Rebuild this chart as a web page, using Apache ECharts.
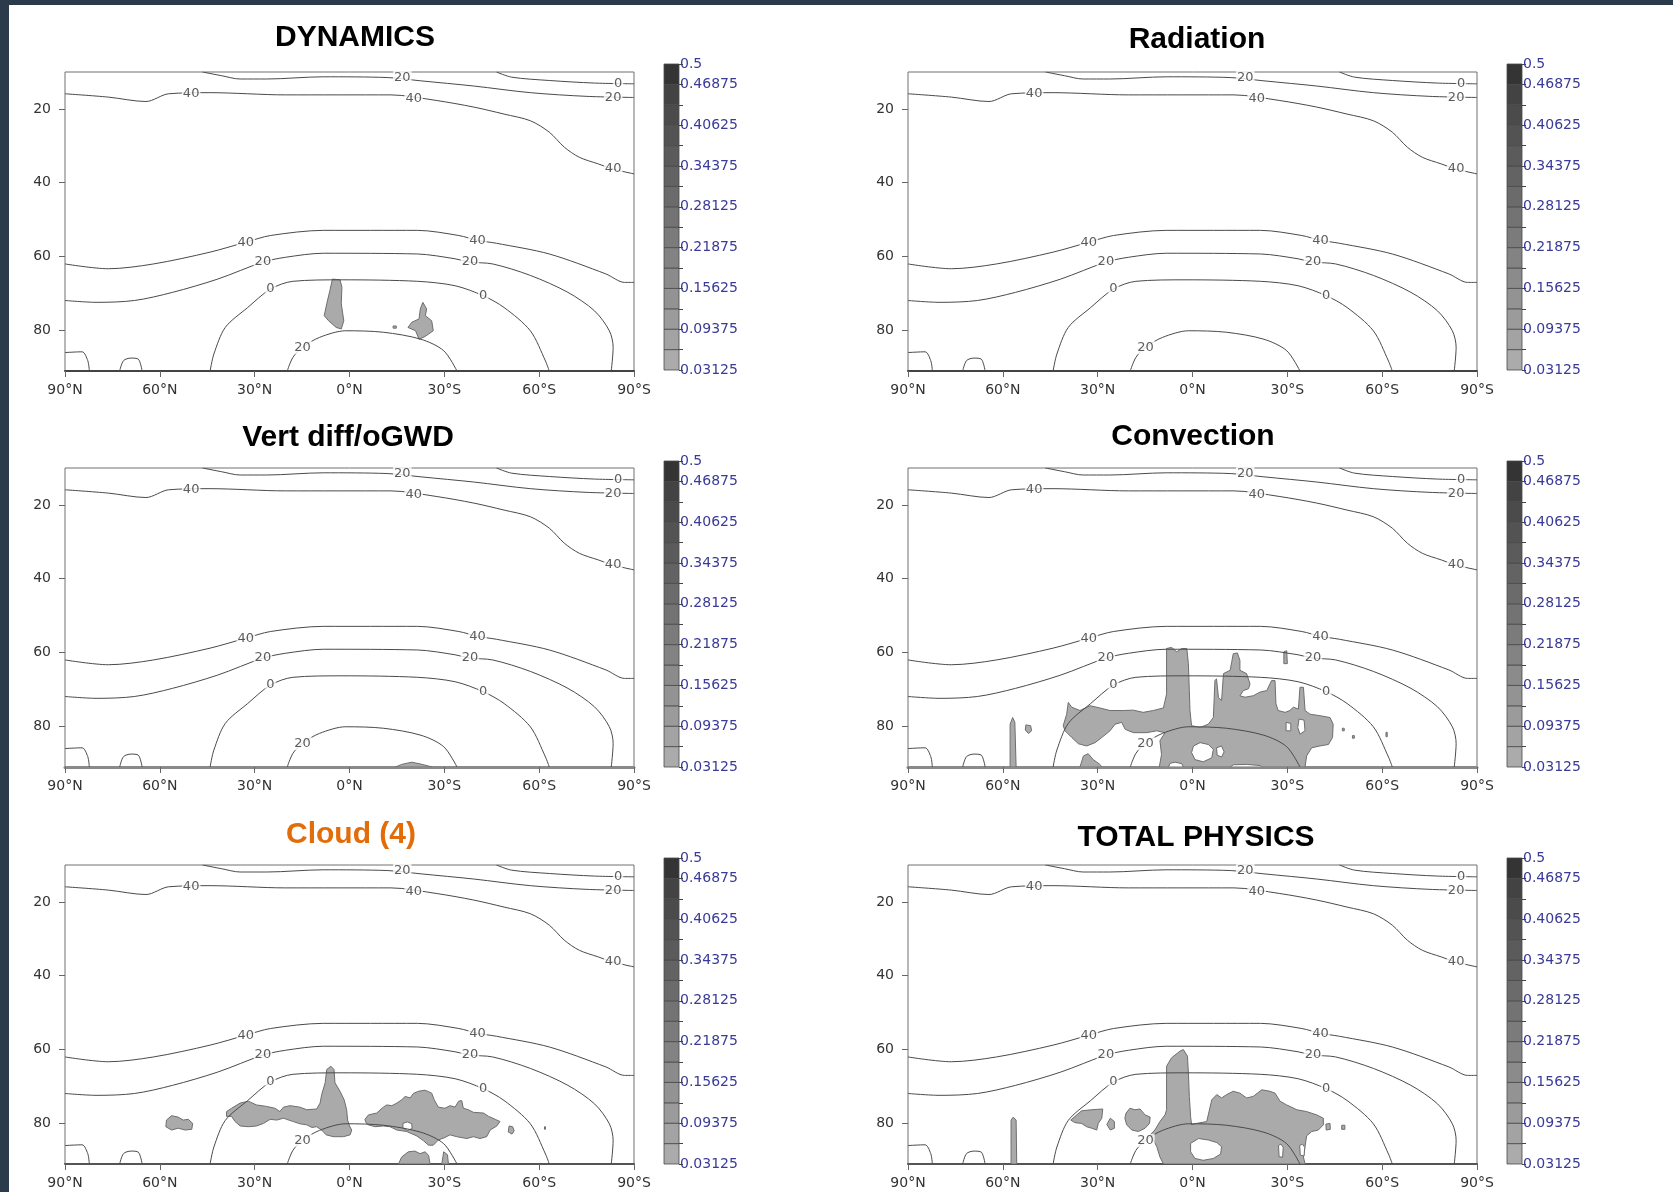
<!DOCTYPE html>
<html><head><meta charset="utf-8">
<script src="https://cdn.jsdelivr.net/npm/echarts@6/dist/echarts.min.js"></script>
<style>html,body{margin:0;padding:0;background:#fff}#c{width:1673px;height:1192px}</style>
</head><body><div id="c"></div>
<script>
// ---------------- DATA ----------------
const panelTitles = ['DYNAMICS', 'Radiation', 'Vert diff/oGWD', 'Convection', 'Cloud (4)', 'TOTAL PHYSICS'];
const latTicks = [-90, -60, -30, 0, 30, 60, 90];
const levelTicks = [20, 40, 60, 80];
const colorbarLevels = [0.03125, 0.0625, 0.09375, 0.125, 0.15625, 0.1875, 0.21875, 0.25, 0.28125, 0.3125, 0.34375, 0.375, 0.40625, 0.4375, 0.46875, 0.5];
const colorbarLabels = [0.03125, 0.09375, 0.15625, 0.21875, 0.28125, 0.34375, 0.40625, 0.46875, 0.5];

// background contour lines [latitude (N>0), model level]
const contourTop20 = [[46.5,10],[40.5,11],[34.6,11.9],[26.2,11.9],[8.3,11.3],[-11.9,11.5],[-22.6,12.4],[-39.3,13.8],[-57.2,15.6],[-75.1,16.6],[-90,16.9]];
const contourTop0 = [[-46.5,10],[-51.3,11.4],[-63.2,12.3],[-77.5,13],[-90,13.2]];
const contourUpper40 = [[90,15.9],[76.3,16.8],[64.4,18],[57.2,15.9],[44.1,15.6],[20.3,16.2],[-13.1,16.2],[-27.4,17.7],[-39.3,19.5],[-48.9,21.4],[-57.2,23.2],[-63.2,26.3],[-68,30.4],[-72.7,33.1],[-78.7,34.9],[-83.4,36.3],[-90,37.6]];
const contourLower40 = [[90,62],[76.3,63.3],[62,62],[44.1,58.8],[32.8,56.1],[25,54.3],[8.3,52.9],[-21.5,52.9],[-34.6,54.3],[-40.5,55.6],[-46.5,56.4],[-63.2,59.3],[-81.1,64.7],[-87,67],[-90,67]];
const contourLower20 = [[90,71.9],[79.9,72.4],[68,71.9],[56,69.7],[41.7,66.1],[27.4,61.5],[20.3,60.2],[8.3,59.1],[-21.5,59.3],[-33.4,60.6],[-38.1,61.5],[-45.3,62],[-57.2,65.1],[-69.1,69.7],[-77.5,74.7],[-82.2,80.1],[-83.4,84.6],[-82.8,91]];
const contourZero = [[44.1,91],[42.9,86.4],[39.3,79.2],[32.2,73.8],[25,68.8],[17.9,66.7],[2.4,66.3],[-21.5,66.7],[-33.4,67.9],[-42.3,70.6],[-48.9,73.8],[-57.2,80.1],[-62,88.3],[-63.2,91]];
const contourInner20 = [[19.7,91],[17.9,87.3],[14.9,84.6],[9.5,81.9],[1.2,80.1],[-10.7,80.5],[-22.6,82.4],[-29.8,85.5],[-34,91]];
const contourBump1 = [[90,86],[84.6,85.8],[82.8,88.2],[82.3,91]];
const contourBump2 = [[72.7,91],[71.5,88.2],[69.1,87.5],[66.8,87.8],[65.6,91]];
const contourLabels = [[-16.7,11.5,'20'],[-85,13.2,'0'],[-83.4,16.9,'20'],[50.1,15.9,'40'],[-20.3,17.3,'40'],[-83.4,36.3,'40'],
  [32.8,56.1,'40'],[-40.5,55.6,'40'],[27.4,61.5,'20'],[-38.1,61.5,'20'],[25,68.8,'0'],[-42.3,70.6,'0'],[14.9,84.6,'20']];

// shaded regions (>0.03125) per panel, polygons of [latitude, level]
const dynamicsBlobs = [
  [[5.4,66.1],[3.0,66.3],[2.4,68.3],[2.6,72.8],[1.8,77.4],[2.6,79.6],[4.2,79.2],[6.6,77.4],[8.0,76.0],[7.2,72.8],[6.2,69.2]],
  [[-23.2,72.4],[-24.4,74.2],[-24.0,76.0],[-26.0,77.4],[-26.5,80.1],[-23.8,81.7],[-22.0,82.4],[-20.9,80.1],[-18.5,79.2],[-19.7,77.8],[-22.0,76.9],[-22.4,74.2]],
  [[-13.8,78.8],[-14.8,78.8],[-14.8,79.4],[-13.8,79.4]]
];
const radiationBlobs = [];
const vertDiffBlobs = [
  [[-14.5,91],[-16.5,90.3],[-19.7,89.7],[-22.5,90.2],[-26.2,91]]
];
const convectionBlobs = [
  [[39.3,73.5],[38.2,74.8],[35.6,75.7],[32.4,74.4],[29.3,75.0],[26.1,75.7],[21.9,75.7],[18.7,75.6],[15.6,76.2],[12.4,75.7],[9.2,75.0],[8.2,71.2],[8.2,58.9],[6.6,58.6],[5.0,59.8],[3.4,58.9],[1.8,58.9],[1.3,63.0],[1.0,70.3],[0.8,75.7],[0.3,79.8],[-2.4,80.3],[-5.0,79.4],[-6.6,77.6],[-7.1,67.6],[-7.6,67.1],[-8.2,72.1],[-9.2,73.0],[-9.8,65.7],[-11.9,64.8],[-12.4,62.6],[-12.9,60.3],[-14.2,60.1],[-15.0,62.1],[-15.0,64.8],[-17.1,65.7],[-18.2,68.5],[-17.7,69.8],[-16.1,70.3],[-15.0,71.7],[-16.6,72.1],[-19.2,71.7],[-21.4,70.7],[-23.5,70.3],[-25.0,67.6],[-26.1,67.6],[-26.4,73.9],[-27.1,75.7],[-29.3,76.2],[-30.8,75.7],[-31.9,74.8],[-33.5,75.3],[-34.0,69.4],[-35.1,69.4],[-35.6,75.7],[-37.2,76.7],[-40.3,77.1],[-43.5,77.6],[-44.5,79.4],[-44.3,83.0],[-43.0,84.9],[-40.3,85.3],[-37.7,85.8],[-36.1,88.0],[-35.6,91],[10.5,91],[9.8,87.6],[10.3,83.9],[8.7,81.7],[11.3,81.2],[14.5,81.7],[18.7,81.7],[21.3,80.8],[22.4,78.9],[24.5,79.4],[26.1,81.2],[28.7,83.0],[30.8,84.4],[33.5,85.3],[36.1,84.7],[38.2,83.0],[40.3,81.2],[40.9,79.8],[39.8,76.7]],
  [[57.7,91],[57.7,79.4],[56.9,77.6],[56.2,78.9],[55.8,91]],
  [[52.7,79.6],[51.2,79.8],[50.9,81.2],[51.9,81.9],[52.9,81.0]],
  [[35.6,91],[34.5,88.0],[33.0,87.4],[31.4,89.0],[29.3,90.3],[28.7,91]],
  [[-28.9,59.8],[-29.8,59.5],[-30.0,63.0],[-28.9,63.0]],
  [[-47.4,80.5],[-48.0,80.5],[-48.0,81.2],[-47.4,81.2]],
  [[-50.6,82.5],[-51.2,82.5],[-51.2,83.2],[-50.6,83.2]],
  [[-61.2,81.6],[-61.6,81.6],[-61.6,82.8],[-61.2,82.8]]
];
const convectionHoles = [
  [[-0.3,85.3],[-2.4,84.4],[-5.0,84.9],[-6.6,86.2],[-6.1,88.5],[-3.4,89.6],[-0.8,89.0],[0.3,87.1]],
  [[-7.6,85.8],[-9.2,85.3],[-10.0,86.9],[-9.2,88.3],[-7.8,87.8]],
  [[-33.7,78.0],[-35.3,78.3],[-35.6,81.2],[-34.0,82.1],[-33.3,80.3]],
  [[-29.6,78.9],[-31.1,79.2],[-31.1,81.2],[-29.6,81.2]],
  [[7.6,91],[7.1,90.0],[5.5,89.7],[3.4,90.1],[2.9,91]],
  [[-11.9,91],[-12.9,90.4],[-17.1,90.3],[-21.4,90.6],[-21.9,91]]
];
const cloudBlobs = [
  [[57.9,79.1],[56.3,77.9],[54.2,78.3],[52.6,79.1],[51.0,78.9],[49.6,80.0],[49.9,81.6],[52.0,81.8],[54.2,81.3],[56.3,81.8],[58.1,80.9]],
  [[38.9,76.8],[37.3,75.9],[34.6,74.5],[32.0,74.0],[29.4,75.0],[26.2,75.4],[23.6,75.9],[22.0,76.8],[20.9,75.6],[18.8,75.2],[15.7,75.6],[13.5,76.3],[10.4,76.1],[9.3,74.5],[8.8,72.2],[7.7,69.0],[7.2,65.4],[5.9,64.5],[4.9,65.4],[4.6,69.0],[3.0,71.3],[1.7,73.6],[0.9,76.3],[0.6,79.1],[0.0,80.7],[-0.7,81.8],[-0.2,83.1],[1.9,83.6],[5.1,83.6],[7.4,83.1],[8.8,81.8],[10.4,80.9],[11.9,81.1],[13.5,80.4],[15.7,80.1],[17.8,79.5],[19.9,78.9],[20.9,78.6],[23.0,79.1],[25.1,78.9],[27.2,80.0],[29.4,80.7],[32.0,80.9],[34.6,80.7],[36.2,79.5],[37.3,78.1],[38.9,78.1]],
  [[-4.9,78.9],[-6.0,77.7],[-8.6,77.2],[-10.7,75.6],[-11.8,75.0],[-13.4,75.2],[-15.0,74.5],[-16.5,73.6],[-17.6,72.7],[-19.2,73.1],[-20.2,71.9],[-21.8,71.3],[-23.9,71.0],[-26.0,71.8],[-26.8,73.6],[-28.1,75.6],[-30.2,75.9],[-31.8,75.2],[-33.4,75.6],[-34.5,74.0],[-35.5,73.8],[-36.0,75.9],[-37.6,76.3],[-39.2,77.0],[-42.4,77.2],[-44.0,78.1],[-46.1,78.9],[-47.6,79.5],[-46.6,80.7],[-44.5,81.8],[-43.4,83.6],[-41.3,84.1],[-39.2,83.6],[-37.1,84.1],[-33.9,83.6],[-31.8,83.1],[-30.2,83.8],[-28.1,84.5],[-26.5,85.9],[-25.0,85.9],[-23.4,84.7],[-21.3,83.4],[-18.1,82.2],[-15.0,81.8],[-12.8,80.9],[-10.7,80.7],[-8.1,80.9],[-6.0,80.4],[-5.2,79.8]],
  [[-50.5,80.7],[-51.6,80.9],[-52.1,82.0],[-51.4,82.9],[-50.2,82.3]],
  [[-15.5,91],[-16.5,89.1],[-18.6,87.7],[-20.7,87.5],[-22.3,88.2],[-23.9,87.7],[-25.0,88.6],[-25.5,91]],
  [[-29.2,91],[-29.8,87.7],[-31.0,88.5],[-31.3,91]],
  [[-61.7,80.9],[-62.0,80.9],[-62.0,81.6],[-61.7,81.6]]
];
const cloudHoles = [
  [[-16.9,80.0],[-18.3,79.6],[-19.7,80.1],[-19.8,81.4],[-18.3,81.9],[-16.9,81.3]]
];
const totalBlobs = [
  [[57.4,91],[57.4,79.1],[56.7,78.3],[55.8,79.1],[55.6,91]],
  [[38.5,79.1],[35.1,76.6],[31.9,76.3],[28.4,76.1],[28.7,78.6],[29.8,80.0],[30.3,81.8],[31.9,81.3],[33.5,80.9],[35.1,80.0],[37.2,79.8]],
  [[27.1,80.3],[26.0,78.6],[24.7,79.5],[24.7,81.3],[26.0,81.8]],
  [[21.0,77.2],[19.8,75.9],[18.2,76.3],[16.6,76.1],[15.0,77.7],[13.4,78.3],[13.6,80.0],[15.0,81.3],[17.1,82.2],[19.2,81.8],[20.8,80.4],[21.4,78.6]],
  [[8.2,76.3],[8.2,64.5],[6.6,62.2],[3.9,60.4],[2.9,60.0],[1.6,61.8],[1.3,66.3],[1.0,72.7],[0.6,78.1],[0.3,80.4],[-1.3,80.0],[-4.5,79.5],[-6.1,73.6],[-7.7,72.2],[-9.2,73.1],[-10.8,72.2],[-12.9,71.3],[-15.0,71.8],[-17.1,73.1],[-19.2,72.7],[-21.9,70.9],[-24.5,71.3],[-26.1,71.8],[-27.7,74.0],[-29.8,75.0],[-33.0,76.3],[-36.1,76.8],[-39.3,77.7],[-41.4,78.6],[-41.4,80.4],[-39.8,81.8],[-37.7,82.2],[-36.1,83.4],[-35.6,86.3],[-35.1,89.1],[-35.6,91],[9.2,91],[10.3,89.1],[11.3,86.3],[12.4,84.5],[13.4,83.1],[11.9,81.8],[10.3,79.5],[8.7,77.7]],
  [[-42.2,80.2],[-43.5,80.0],[-43.6,81.6],[-42.3,81.8]],
  [[-47.2,80.5],[-48.2,80.5],[-48.2,81.6],[-47.2,81.6]]
];
const totalHoles = [
  [[0.6,85.4],[-1.9,84.1],[-5.0,84.5],[-7.7,85.2],[-9.2,86.3],[-8.9,88.3],[-6.6,89.5],[-3.4,90.0],[-0.8,89.5],[0.6,87.7]],
  [[-27.2,86.0],[-28.0,85.6],[-28.7,86.5],[-28.5,89.2],[-27.4,89.0]],
  [[-33.9,86.0],[-34.8,85.6],[-35.5,86.5],[-35.3,88.8],[-34.1,88.6]]
];

// ---------------- LAYOUT / STYLE ----------------
const panelBlobs = [dynamicsBlobs, radiationBlobs, vertDiffBlobs, convectionBlobs, cloudBlobs, totalBlobs];
const panelHoles = [[], [], [], convectionHoles, cloudHoles, totalHoles];
const plotLeft = [65, 908], plotTop = [72, 468, 865], plotW = 569, plotH = 299;
const barLeft = [664, 1507], barTop = [64, 461, 858], barW = 15, barH = 306;
const titlePos = [[355, 38], [1197, 40], [348, 438], [1193, 437], [351, 835], [1196, 838]];
const titleColors = ['#000', '#000', '#000', '#000', '#e36c09', '#000'];
const bottomLine = [['#444', 2], ['#444', 2], ['#8a8a8a', 3], ['#8a8a8a', 3], ['#555', 2], ['#555', 2]];
const shades = ['#ababab','#a3a3a3','#9b9b9b','#939393','#8b8b8b','#838383','#7b7b7b','#737373','#6b6b6b','#636363','#5b5b5b','#535353','#4b4b4b','#434343','#343434'];
const FONT = 'DejaVu Sans';

function latLabel(v) { v = Math.round(v); return v > 0 ? v + '°N' : (v < 0 ? (-v) + '°S' : '0°N'); }

const grid = [], xAxis = [], yAxis = [], series = [], graphic = [];
for (let i = 0; i < 6; i++) {
  const col = i % 2, row = Math.floor(i / 2);
  grid.push({ left: plotLeft[col], top: plotTop[row], width: plotW, height: plotH, show: true, borderColor: '#707070', borderWidth: 1, backgroundColor: '#fff' });
  xAxis.push({ gridIndex: i, type: 'value', min: -90, max: 90, inverse: true, interval: 30, position: 'bottom',
    axisLine: { show: true, onZero: false, lineStyle: { color: bottomLine[i][0], width: bottomLine[i][1] } },
    axisTick: { show: true, length: 6, lineStyle: { color: '#666' } },
    axisLabel: { margin: 12, color: '#333', fontSize: 14, fontFamily: FONT, formatter: latLabel, showMinLabel: true, showMaxLabel: true },
    splitLine: { show: false } });
  yAxis.push({ gridIndex: i, type: 'value', min: 10, max: 91, inverse: true, position: 'left',
    axisLine: { show: false, onZero: false },
    axisTick: { show: true, length: 6, customValues: levelTicks, lineStyle: { color: '#666' } },
    axisLabel: { margin: 14, color: '#333', fontSize: 14, fontFamily: FONT, customValues: levelTicks },
    splitLine: { show: false } });
}
for (let i = 0; i < 6; i++) {
  const col = i % 2, row = Math.floor(i / 2);
  grid.push({ left: barLeft[col], top: barTop[row], width: barW, height: barH, show: false });
  xAxis.push({ gridIndex: 6 + i, type: 'value', min: 0, max: 1, show: false });
  yAxis.push({ gridIndex: 6 + i, type: 'value', min: 0.03125, max: 0.5, position: 'right',
    axisLine: { show: false, onZero: false },
    axisTick: { show: true, length: 4, customValues: colorbarLevels, lineStyle: { color: '#444' } },
    axisLabel: { margin: 1, color: '#3a3a98', fontSize: 14, fontFamily: FONT, customValues: colorbarLabels,
      formatter: v => String(+(+v).toFixed(5)), showMinLabel: true, showMaxLabel: true },
    splitLine: { show: false } });
}

function polySeries(gi, polys, fill, stroke, z) {
  return { type: 'custom', xAxisIndex: gi, yAxisIndex: gi, clip: true, silent: true, z: z, animation: false,
    data: polys.map((p, k) => [p[0][0], p[0][1], k]),
    renderItem: (params, api) => ({ type: 'polygon', shape: { points: polys[params.dataIndex].map(v => api.coord(v)) },
      style: { fill: fill, stroke: stroke, lineWidth: 1 } }) };
}
const allContours = [contourTop20, contourTop0, contourUpper40, contourLower40, contourLower20, contourZero, contourInner20, contourBump1, contourBump2];

for (let i = 0; i < 6; i++) {
  if (panelBlobs[i].length) series.push(polySeries(i, panelBlobs[i], '#aaaaaa', '#6e6e6e', 2));
  if (panelHoles[i].length) series.push(polySeries(i, panelHoles[i], '#ffffff', '#6e6e6e', 3));
  allContours.forEach(line => series.push({ type: 'line', xAxisIndex: i, yAxisIndex: i, data: line, showSymbol: false, symbol: 'none',
    smooth: 0.3, silent: true, animation: false, z: 4, lineStyle: { color: '#4a4a4a', width: 1 } }));
  series.push({ type: 'scatter', xAxisIndex: i, yAxisIndex: i, data: contourLabels, symbolSize: 0, silent: true, animation: false, z: 5,
    label: { show: true, position: 'inside', formatter: p => String(p.value[2]), color: '#333', fontSize: 13, fontFamily: FONT,
      backgroundColor: '#fff', padding: [0, 1] } });
  // colorbar
  const bands = colorbarLevels.slice(0, -1).map((lo, k) => [0.5, lo, colorbarLevels[k + 1]]);
  series.push({ type: 'custom', xAxisIndex: 6 + i, yAxisIndex: 6 + i, silent: true, animation: false, data: bands,
    renderItem: (params, api) => {
      const b = bands[params.dataIndex];
      const p1 = api.coord([0, b[2]]), p2 = api.coord([1, b[1]]);
      return { type: 'rect', shape: { x: p1[0], y: p1[1], width: p2[0] - p1[0], height: p2[1] - p1[1] },
        style: { fill: shades[params.dataIndex], stroke: '#4a4a4a', lineWidth: 0.8 } };
    } });
  graphic.push({ type: 'text', x: titlePos[i][0], y: titlePos[i][1], silent: true,
    style: { text: panelTitles[i], fill: titleColors[i], fontSize: 30, fontWeight: 'bold', fontFamily: 'Liberation Sans, Arial, sans-serif',
      align: 'center', verticalAlign: 'middle' } });
}
graphic.push({ type: 'rect', shape: { x: 0, y: 0, width: 1673, height: 5 }, style: { fill: '#2c3b4b' }, silent: true });
graphic.push({ type: 'rect', shape: { x: 0, y: 0, width: 9, height: 1192 }, style: { fill: '#2c3b4b' }, silent: true });

const chart = echarts.init(document.getElementById('c'), null, { renderer: 'canvas' });
chart.setOption({ animation: false, backgroundColor: '#fff', grid, xAxis, yAxis, series, graphic });
</script>
</body></html>
